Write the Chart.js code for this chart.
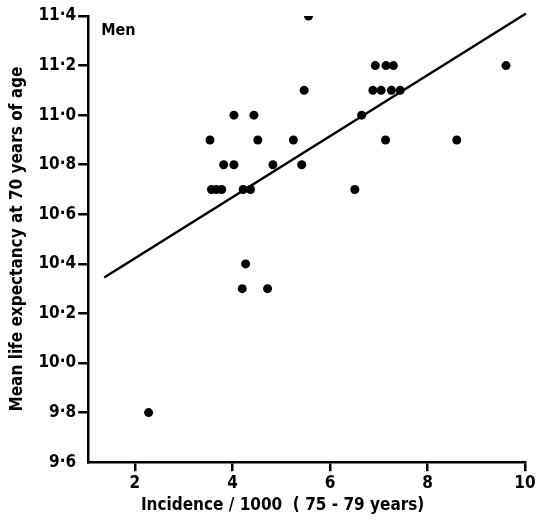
<!DOCTYPE html>
<html>
<head>
<meta charset="utf-8">
<script src="https://cdn.jsdelivr.net/npm/chart.js@4"></script>
<style>
html,body{margin:0;padding:0;background:#fff;}
#wrap{width:536px;height:522px;}
</style>
</head>
<body>
<div id="wrap"><canvas id="c" width="536" height="522"></canvas></div>
<script>
// Data
const incidence = [5.56, 5.47, 4.03, 4.44, 3.54, 4.52, 5.25, 3.82, 4.03, 4.83, 5.42, 3.57, 3.67, 3.78, 4.22, 4.37,
                   6.93, 7.15, 7.30, 9.61, 6.88, 7.05, 7.26, 7.44, 6.65, 7.14, 8.60, 6.51, 4.27, 4.20, 4.72, 2.28];
const lifeExpectancy = [11.4, 11.1, 11.0, 11.0, 10.9, 10.9, 10.9, 10.8, 10.8, 10.8, 10.8, 10.7, 10.7, 10.7, 10.7, 10.7,
                        11.2, 11.2, 11.2, 11.2, 11.1, 11.1, 11.1, 11.1, 11.0, 10.9, 10.9, 10.7, 10.4, 10.3, 10.3, 9.8];
const fitX = [1.37, 10.02];
const fitY = [10.345, 11.41];
const xTicks = [2, 4, 6, 8, 10];
const yTicks = [9.6, 9.8, 10.0, 10.2, 10.4, 10.6, 10.8, 11.0, 11.2, 11.4];
const panelLabel = "Men";
const xTitle = "Incidence / 1000  ( 75 - 79 years)\u00A0\u00A0\u00A0\u00A0\u00A0\u00A0\u00A0\u00A0\u00A0";
const yTitle = "Mean life expectancy at 70 years of age";

const FONT = "'DejaVu Sans Condensed', 'DejaVu Sans', sans-serif";

const points = incidence.map((x, i) => ({x: x, y: lifeExpectancy[i]}));
const fit = fitX.map((x, i) => ({x: x, y: fitY[i]}));

const labelPlugin = {
  id: 'panelLabel',
  afterDraw(chart) {
    const ctx = chart.ctx, a = chart.chartArea;
    ctx.save();
    ctx.font = "bold 16px " + FONT;
    ctx.fillStyle = '#000';
    ctx.textBaseline = 'top';
    ctx.fillText(panelLabel, a.left + 13, a.top + 7);
    ctx.restore();
  }
};

new Chart(document.getElementById('c'), {
  type: 'scatter',
  data: {
    datasets: [
      {
        type: 'scatter',
        data: points,
        backgroundColor: '#000',
        borderColor: '#000',
        pointRadius: 4.5,
        pointHoverRadius: 4.5,
        borderWidth: 0
      },
      {
        type: 'line',
        data: fit,
        borderColor: '#000',
        borderWidth: 2.5,
        pointRadius: 0,
        fill: false,
        clip: false
      }
    ]
  },
  options: {
    responsive: false,
    animation: false,
    events: [],
    layout: {padding: {left: 7, right: 0, top: 16, bottom: 6}},
    plugins: {legend: {display: false}, tooltip: {enabled: false}},
    scales: {
      x: {
        type: 'linear',
        min: 1.04,
        max: 10,
        afterBuildTicks: s => { s.ticks = xTicks.map(v => ({value: v})); },
        afterFit: s => { s.paddingRight = 11; },
        border: {display: true, color: '#000', width: 2.5},
        grid: {drawOnChartArea: false, drawTicks: true, tickLength: 9, color: '#000', lineWidth: 2.5},
        ticks: {color: '#000', font: {family: FONT, size: 17, weight: 'bold'}, padding: 2,
                callback: v => String(v), maxRotation: 0},
        title: {display: true, text: xTitle, color: '#000', font: {family: FONT, size: 17, weight: 'bold'},
                padding: {top: 0, bottom: 0}}
      },
      y: {
        type: 'linear',
        min: 9.6,
        max: 11.4,
        afterBuildTicks: s => { s.ticks = yTicks.map(v => ({value: v})); },
        border: {display: true, color: '#000', width: 2.5},
        grid: {drawOnChartArea: false, drawTicks: true, tickLength: 10,
               color: c => (c.tick && Math.abs(c.tick.value - 9.6) < 1e-6) ? 'rgba(0,0,0,0)' : '#000',
               lineWidth: 2.5},
        ticks: {color: '#000', font: {family: FONT, size: 17, weight: 'bold'}, padding: 2,
                callback: v => v.toFixed(1).replace('.', '\u00B7')},
        title: {display: true, text: yTitle, color: '#000', font: {family: FONT, size: 17, weight: 'bold'},
                padding: {top: 0, bottom: 9}}
      }
    }
  },
  plugins: [labelPlugin]
});
</script>
</body>
</html>
